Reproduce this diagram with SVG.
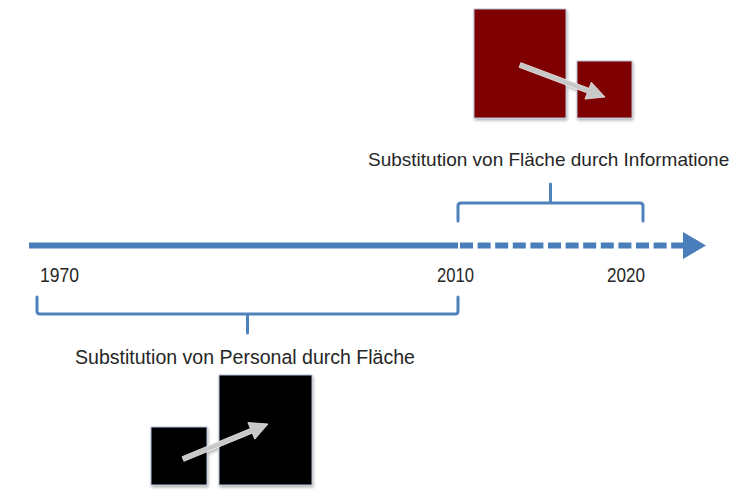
<svg xmlns="http://www.w3.org/2000/svg" width="735" height="501" viewBox="0 0 735 501">
<style>
.lbl{font-family:"Liberation Sans",Arial,sans-serif;font-size:20.5px;fill:#262626}
.yr{font-family:"Liberation Sans",Arial,sans-serif;font-size:21px;fill:#262626}
.brace{fill:none;stroke:#4F81BD;stroke-width:3;stroke-linecap:round;stroke-linejoin:round}
.sq{stroke:#B4C2D8;stroke-width:1}
.red{fill:#7F0000}
.blk{fill:#000000}
.arr{fill:#C8C8C8;stroke:#E8E8E8;stroke-width:0.8}
</style>
<defs>
<filter id="sh" x="-10%" y="-10%" width="130%" height="130%">
<feGaussianBlur in="SourceAlpha" stdDeviation="1.5"/>
<feOffset dx="1" dy="2" result="o"/>
<feComponentTransfer><feFuncA type="linear" slope="0.3"/></feComponentTransfer>
<feMerge><feMergeNode/><feMergeNode in="SourceGraphic"/></feMerge>
</filter>
</defs>
<rect width="735" height="501" fill="#ffffff"/>
<g id="connectors">
<line x1="29" y1="245.5" x2="458" y2="245.5" stroke="#4A7EBB" stroke-width="6"/>
<line x1="460" y1="245.5" x2="684" y2="245.5" stroke="#4A7EBB" stroke-width="6" stroke-dasharray="13 4.6"/>
<polygon points="683,232 706,245.5 683,259" fill="#4A7EBB"/>
<path class="brace" d="M37,297 V311 Q37,314 40,314 H455 Q458,314 458,311 V297 M247.5,314 V333"/>
<path class="brace" d="M458,221 V206 Q458,203 461,203 H640 Q643,203 643,206 V221 M550.5,203 V184"/>
</g>
<g id="year-1970"><text class="yr" x="40" y="282" textLength="39" lengthAdjust="spacingAndGlyphs">1970</text></g>
<g id="year-2010"><text class="yr" x="437" y="282" textLength="37" lengthAdjust="spacingAndGlyphs">2010</text></g>
<g id="year-2020"><text class="yr" x="607" y="282" textLength="38" lengthAdjust="spacingAndGlyphs">2020</text></g>
<g id="label-top"><text class="lbl" x="368" y="166" style="font-size:19px">Substitution von Fläche durch Informatione</text></g>
<g id="label-bottom"><text class="lbl" x="75" y="364" textLength="340" lengthAdjust="spacingAndGlyphs">Substitution von Personal durch Fläche</text></g>
<g id="red-squares" filter="url(#sh)">
<rect class="sq red" x="474" y="9" width="92" height="109"/>
<rect class="sq red" x="577" y="61" width="55" height="57"/>
<polygon class="arr" points="520.88,62.66 589.03,88.32 591.32,82.24 605,97 584.98,99.08 587.27,93.0 519.12,67.34"/>
</g>
<g id="black-squares" filter="url(#sh)">
<rect class="sq blk" x="151" y="427" width="56" height="58"/>
<rect class="sq blk" x="219" y="375" width="93" height="110"/>
<polygon class="arr" points="182.05,456.69 250.40,428.55 247.92,422.53 268,424 254.78,439.19 252.30,433.17 183.95,461.31"/>
</g>
</svg>
